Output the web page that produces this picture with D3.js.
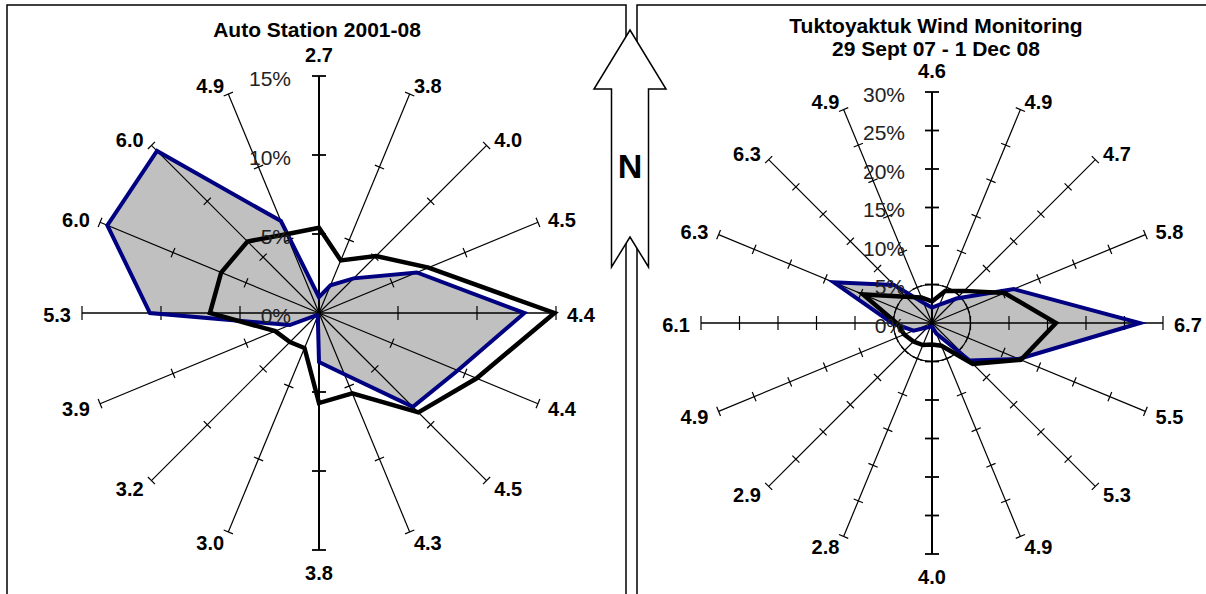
<!DOCTYPE html>
<html>
<head>
<meta charset="utf-8">
<script src="https://cdn.jsdelivr.net/npm/d3@7"></script>
<style>
  html, body { margin: 0; padding: 0; background: #fff; }
  svg { display: block; }
  text { font-family: "Liberation Sans", Arial, sans-serif; fill: #000; }
</style>
</head>
<body>
<svg id="chart" width="1206" height="594"></svg>
<script>
// Compass sectors, clockwise from north
const directions = ["N","NNE","NE","ENE","E","ESE","SE","SSE","S","SSW","SW","WSW","W","WNW","NW","NNW"];

// Mean wind speed per sector (printed at the end of each spoke)
const autoSpeed = ["2.7","3.8","4.0","4.5","4.4","4.4","4.5","4.3","3.8","3.0","3.2","3.9","5.3","6.0","6.0","4.9"];
const tukSpeed  = ["4.6","4.9","4.7","5.8","6.7","5.5","5.3","4.9","4.0","2.8","2.9","4.9","6.1","6.3","6.3","4.9"];

// Frequency of occurrence per sector (%)
const autoGrey  = [1.0, 1.9, 3.1, 6.7, 13.0, 9.5, 8.4, 4.2, 3.1, 0.2, 0.2, 2.0, 10.7, 14.5, 14.5, 6.3];
const autoBlack = [5.4, 3.6, 5.1, 7.5, 14.9, 10.8, 8.9, 5.5, 5.7, 2.4, 2.6, 3.0, 6.9, 6.7, 6.4, 5.4];
const tukGrey   = [2.0, 2.6, 4.5, 11.5, 27.0, 12.2, 6.9, 1.5, 0.5, 0.5, 0.8, 2.6, 5.2, 13.8, 7.0, 2.8];
const tukBlack  = [2.8, 4.5, 5.9, 10.2, 16.1, 12.5, 7.5, 3.2, 2.8, 3.1, 3.4, 3.9, 4.6, 9.7, 4.8, 3.6];

// Radial axis ticks (%)
const autoTicks = [0, 5, 10, 15];
const tukTicks  = [0, 5, 10, 15, 20, 25, 30];

const svg = d3.select("#chart");

// Panel frames
svg.append("rect").attr("x", 7).attr("y", 5).attr("width", 619).attr("height", 620)
  .attr("fill", "none").attr("stroke", "#000").attr("stroke-width", 1.5);
svg.append("rect").attr("x", 637).attr("y", 5).attr("width", 600).attr("height", 620)
  .attr("fill", "none").attr("stroke", "#000").attr("stroke-width", 1.5);

function drawRose(cfg) {
  const g = svg.append("g").attr("transform", `translate(${cfg.cx},${cfg.cy})`);
  const r = d3.scaleLinear().domain([0, d3.max(cfg.ticks)]).range([0, cfg.R]);
  const angle = d3.scaleLinear().domain([0, directions.length]).range([0, 2 * Math.PI]);
  const line = d3.lineRadial()
    .angle((d, i) => angle(i))
    .radius(d => r(d))
    .curve(d3.curveLinearClosed);

  // shaded series
  g.append("path").attr("d", line(cfg.grey)).attr("fill", "#c0c0c0").attr("stroke", "none");

  if (cfg.circle) {
    g.append("circle").attr("r", r(cfg.circle)).attr("fill", "none")
      .attr("stroke", "#000").attr("stroke-width", 1.2);
  }

  // spokes with tick marks
  directions.forEach((d, i) => {
    const a = angle(i);
    const ux = Math.sin(a), uy = -Math.cos(a);
    const isNS = i % 8 === 0, isEW = i % 8 === 4;
    const sw = isNS ? 2 : (isEW ? 1.5 : 1.2);
    const h = (isNS || isEW) ? 7 : 5;
    g.append("line")
      .attr("x1", 0).attr("y1", 0)
      .attr("x2", ux * cfg.R).attr("y2", uy * cfg.R)
      .attr("stroke", "#000").attr("stroke-width", sw);
    cfg.ticks.filter(t => t > 0).forEach(t => {
      const px = ux * r(t), py = uy * r(t);
      const nx = -uy, ny = ux;
      g.append("line")
        .attr("x1", px - nx * h).attr("y1", py - ny * h)
        .attr("x2", px + nx * h).attr("y2", py + ny * h)
        .attr("stroke", "#000").attr("stroke-width", isNS ? 1.8 : 1.2);
    });
  });

  // series outlines
  g.append("path").attr("d", line(cfg.grey)).attr("fill", "none")
    .attr("stroke", "#000080").attr("stroke-width", 4).attr("stroke-linejoin", "miter");
  g.append("path").attr("d", line(cfg.black)).attr("fill", "none")
    .attr("stroke", "#000").attr("stroke-width", 4.5).attr("stroke-linejoin", "miter");

  // radial value labels
  g.selectAll("text.pct").data(cfg.ticks).enter().append("text")
    .attr("class", "pct")
    .attr("x", -cfg.labelGap)
    .attr("y", t => -r(t) + 2)
    .attr("text-anchor", "end")
    .attr("dominant-baseline", "central")
    .style("font-size", "21px")
    .style("fill", "#222")
    .text(t => t + "%");

  // sector speed labels
  directions.forEach((d, i) => {
    const a = angle(i);
    const ux = Math.sin(a), uy = -Math.cos(a);
    const ex = ux * cfg.R, ey = uy * cfg.R;
    let x, y, anchor;
    if (Math.abs(ux) < 0.01) {
      x = ex; y = ey + uy * 22 + 1; anchor = "middle";
    } else {
      x = ex + ux * 11; y = ey + uy * 10 + 1.5; anchor = ux > 0 ? "start" : "end";
    }
    g.append("text")
      .attr("x", x).attr("y", y)
      .attr("text-anchor", anchor)
      .attr("dominant-baseline", "central")
      .style("font-size", "20px").style("font-weight", "bold")
      .text(cfg.speed[i]);
  });
}

drawRose({ cx: 319, cy: 313, R: 237, ticks: autoTicks, grey: autoGrey, black: autoBlack,
           speed: autoSpeed, labelGap: 28 });
drawRose({ cx: 932, cy: 323, R: 231, ticks: tukTicks, grey: tukGrey, black: tukBlack,
           speed: tukSpeed, labelGap: 27, circle: 5 });

// Titles
svg.append("text").attr("x", 317).attr("y", 37).attr("text-anchor", "middle")
  .style("font-size", "21px").style("font-weight", "bold").text("Auto Station 2001-08");
svg.append("text").attr("x", 936).attr("y", 33).attr("text-anchor", "middle")
  .style("font-size", "21px").style("font-weight", "bold").text("Tuktoyaktuk Wind Monitoring");
svg.append("text").attr("x", 936).attr("y", 56).attr("text-anchor", "middle")
  .style("font-size", "21px").style("font-weight", "bold").text("29 Sept 07 - 1 Dec 08");

// North arrow between the two roses
const arrow = [[630, 30], [666, 89], [648.5, 89], [648.5, 267], [630, 237],
               [611.5, 267], [611.5, 89], [594, 89]];
svg.append("path")
  .attr("d", d3.line()(arrow) + "Z")
  .attr("fill", "#fff").attr("stroke", "#000").attr("stroke-width", 1.5)
  .attr("stroke-linejoin", "miter");
svg.append("text").attr("x", 630).attr("y", 166).attr("text-anchor", "middle")
  .attr("dominant-baseline", "central")
  .style("font-size", "34px").style("font-weight", "bold").text("N");
</script>
</body>
</html>
